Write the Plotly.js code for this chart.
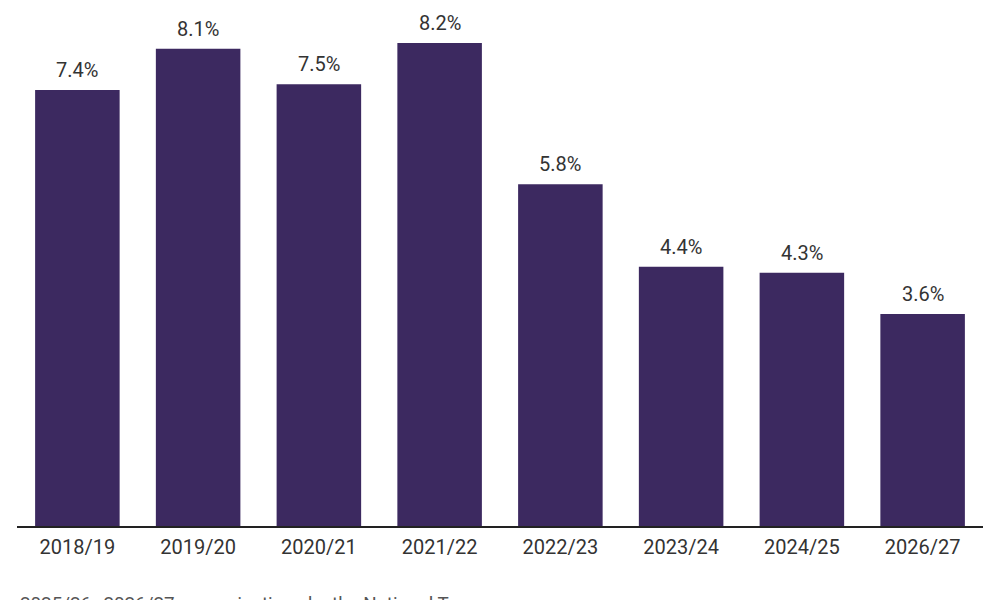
<!DOCTYPE html>
<html>
<head>
<meta charset="utf-8">
<script src="https://cdn.plot.ly/plotly-3.0.1.min.js"></script>
<style>html,body{margin:0;padding:0;background:#fff;}#chart{width:1000px;height:600px;}</style>
</head>
<body>
<div id="chart"></div>
<script>
const categories = ["2018/19","2019/20","2020/21","2021/22","2022/23","2023/24","2024/25","2026/27"];
const values = [7.4, 8.1, 7.5, 8.2, 5.8, 4.4, 4.3, 3.6];
const valueLabels = ["7.4%","8.1%","7.5%","8.2%","5.8%","4.4%","4.3%","3.6%"];
const footnote = "2025/26–2026/27 are projections by the National Treasury";

const trace = {
  type: "bar",
  x: categories,
  y: values,
  marker: {color: "#3c2960"},
  hoverinfo: "skip"
};

const annotations = categories.map((c, i) => ({
  x: c, y: values[i], xref: "x", yref: "y",
  text: valueLabels[i], showarrow: false,
  yanchor: "bottom", yshift: 6,
  font: {family: "Roboto, sans-serif", size: 20, color: "#333333"}
}));
annotations.push({
  x: 0.001, y: -0.128, xref: "paper", yref: "paper",
  xanchor: "left", yanchor: "top", align: "left",
  text: footnote, showarrow: false,
  font: {family: "Roboto, sans-serif", size: 18.8, color: "#555555"}
});

const layout = {
  width: 1000, height: 600,
  margin: {l: 17, r: 17, t: 20, b: 74},
  paper_bgcolor: "#ffffff", plot_bgcolor: "#ffffff",
  bargap: 0.3,
  showlegend: false,
  xaxis: {
    type: "category",
    showline: true, linecolor: "#222222", linewidth: 1.5,
    ticks: "", showgrid: false, zeroline: false,
    ticklabelstandoff: 2,
    tickfont: {family: "Roboto, sans-serif", size: 20, color: "#333333"}
  },
  yaxis: {
    range: [0, 8.59], visible: false, showgrid: false, zeroline: false
  },
  annotations: annotations
};

Plotly.newPlot("chart", [trace], layout, {displayModeBar: false, staticPlot: true});
</script>
</body>
</html>
